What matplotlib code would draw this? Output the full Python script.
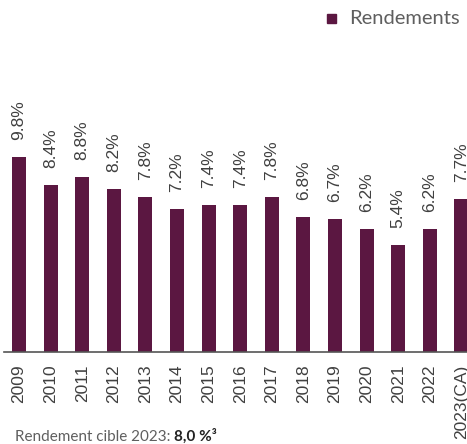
import matplotlib
matplotlib.use("Agg")
import matplotlib.pyplot as plt

# Data
years = ["2009", "2010", "2011", "2012", "2013", "2014", "2015", "2016",
         "2017", "2018", "2019", "2020", "2021", "2022", "2023(CA)"]
rendements = [9.8, 8.4, 8.8, 8.2, 7.8, 7.2, 7.4, 7.4, 7.8, 6.8, 6.7, 6.2, 5.4, 6.2, 7.7]
labels = ["9.8%", "8.4%", "8.8%", "8.2%", "7.8%", "7.2%", "7.4%", "7.4%",
          "7.8%", "6.8%", "6.7%", "6.2%", "5.4%", "6.2%", "7.7%"]

bar_color = "#5b1741"
text_color = "#404040"
grey = "#5f5f5f"

fig = plt.figure(figsize=(4.67, 4.44), dpi=100)
# axes: left edge ~4px, baseline at y=352px
ax = fig.add_axes([4 / 467, 92 / 444, 463 / 467, 292 / 444])

x = list(range(len(years)))
ax.bar(x, rendements, width=0.44, color=bar_color, zorder=2)

for xi, v, lab in zip(x, rendements, labels):
    ax.annotate(lab, xy=(xi, v), xytext=(0, 12), textcoords="offset points",
                rotation=90, ha="center", va="bottom", fontsize=12.5,
                family="Liberation Sans", color=text_color)

ax.set_xlim(-0.475, 14.177)
ax.set_ylim(0, 292 / 19.9)

ax.set_xticks(x)
ax.set_xticklabels(years, rotation=90, fontsize=12.5, family="Liberation Sans",
                   color=text_color)
ax.tick_params(axis="x", length=0, pad=9)
ax.set_yticks([])

for side in ["top", "right", "left"]:
    ax.spines[side].set_visible(False)
ax.spines["bottom"].set_color("#555555")
ax.spines["bottom"].set_linewidth(1.2)

# legend
fig.patches.append(plt.Rectangle((327 / 467, 1 - 23 / 444), 9 / 467, 9 / 444,
                                 transform=fig.transFigure, color=bar_color))
fig.text(349 / 467, 1 - 19 / 444, "Rendements", family="Lato",
         fontsize=14.5, color=grey, va="center", ha="left")

# footnote
t1 = fig.text(15 / 467, 1 - 441 / 444, "Rendement cible 2023: ", family="Lato",
              fontsize=11, color=grey, va="baseline", ha="left")
plt.annotate("8,0 %³", xy=(1, 0), xycoords=t1, va="bottom", ha="left",
             family="Lato", fontweight="bold", fontsize=11, color="#222222",
             annotation_clip=False)

fig.savefig("out.png", dpi=100)
